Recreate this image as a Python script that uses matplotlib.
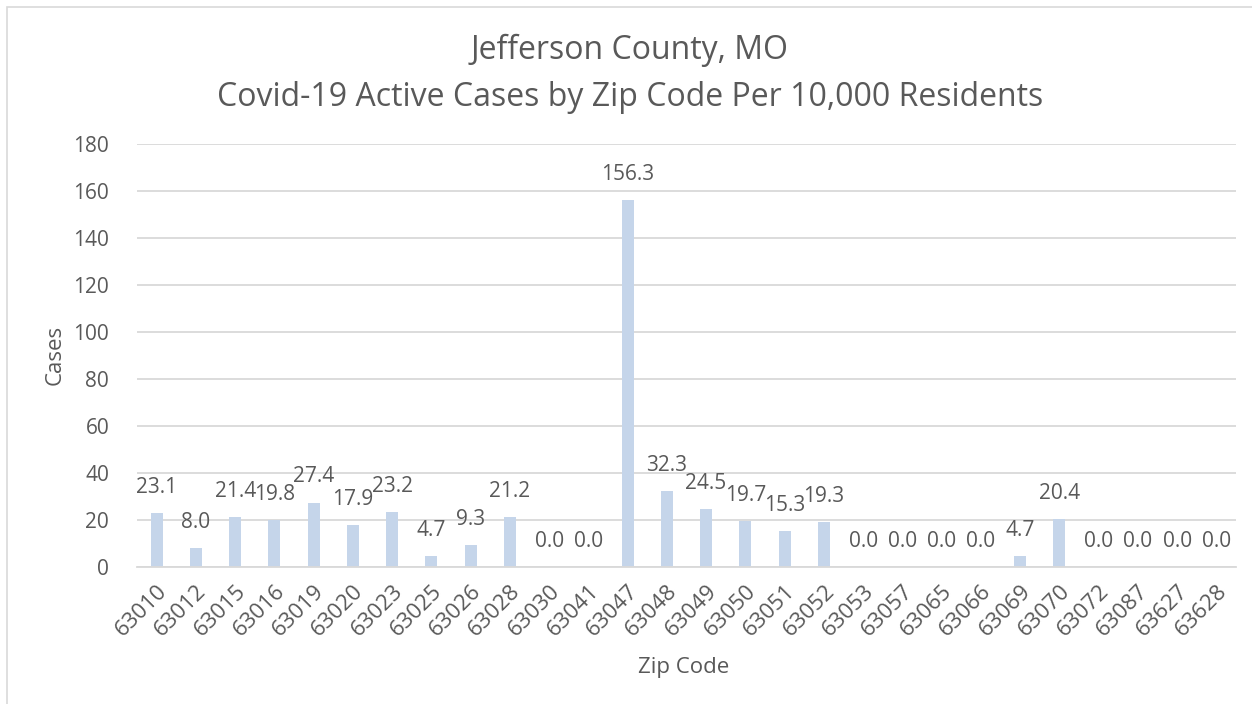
import matplotlib.pyplot as plt
from matplotlib.patches import Rectangle

zip_codes = ["63010", "63012", "63015", "63016", "63019", "63020", "63023", "63025",
             "63026", "63028", "63030", "63041", "63047", "63048", "63049", "63050",
             "63051", "63052", "63053", "63057", "63065", "63066", "63069", "63070",
             "63072", "63087", "63627", "63628"]
cases = [23.1, 8.0, 21.4, 19.8, 27.4, 17.9, 23.2, 4.7,
         9.3, 21.2, 0.0, 0.0, 156.3, 32.3, 24.5, 19.7,
         15.3, 19.3, 0.0, 0.0, 0.0, 0.0, 4.7, 20.4,
         0.0, 0.0, 0.0, 0.0]

text_col = "#595959"
bar_col = "#C5D5EA"
grid_col = "#D9D9D9"

plt.rcParams['font.family'] = ['Open Sans', 'DejaVu Sans']

W, H = 1252, 704
fig = plt.figure(figsize=(W / 100, H / 100), dpi=100)
ax = fig.add_axes([137 / W, 1 - 567 / H, (1236 - 137) / W, (567 - 144) / H])

x = list(range(len(zip_codes)))
ax.bar(x, cases, width=0.31, color=bar_col, zorder=2)

# data labels above each bar
for xi, v in zip(x, cases):
    ax.annotate(f"{v:.1f}", (xi, v), xytext=(0, 14.5), textcoords="offset points",
                ha="center", va="baseline", fontsize=15, color=text_col)

ax.set_xlim(-0.5, len(zip_codes) - 0.5)
ax.set_ylim(0, 180)
ax.set_yticks(range(0, 181, 20))
ax.set_xticks(x)
ax.set_xticklabels(zip_codes, rotation=45, ha="right", rotation_mode="anchor")
ax.tick_params(axis="both", length=0, labelsize=15, labelcolor=text_col)
ax.tick_params(axis="x", pad=10, labelsize=16)
ax.tick_params(axis="y", pad=20)
ax.yaxis.grid(True, color=grid_col, linewidth=1.3, zorder=0)
ax.set_axisbelow(True)
for s in ["top", "right", "left"]:
    ax.spines[s].set_visible(False)
ax.spines["bottom"].set_color(grid_col)
ax.spines["bottom"].set_linewidth(1.3)

fig.text(55 / W, 1 - 355 / H, "Cases", fontsize=16, color=text_col,
         ha="center", va="center", rotation=90)
fig.text(684 / W, 1 - 667 / H, "Zip Code", fontsize=16, color=text_col,
         ha="center", va="center")

fig.text(630 / W, 1 - 50 / H, "Jefferson County, MO", fontsize=23,
         color=text_col, ha="center", va="center")
fig.text(630 / W, 1 - 97 / H, "Covid-19 Active Cases by Zip Code Per 10,000 Residents",
         fontsize=23, color=text_col, ha="center", va="center")

# thin chart-area border (top and left visible)
fig.patches.append(Rectangle((7 / W, -0.01), 1.1, 1 - 7 / H + 0.01,
                             transform=fig.transFigure, fill=False,
                             edgecolor="#D9D9D9", linewidth=1.2))

fig.savefig("out.png", dpi=100)
